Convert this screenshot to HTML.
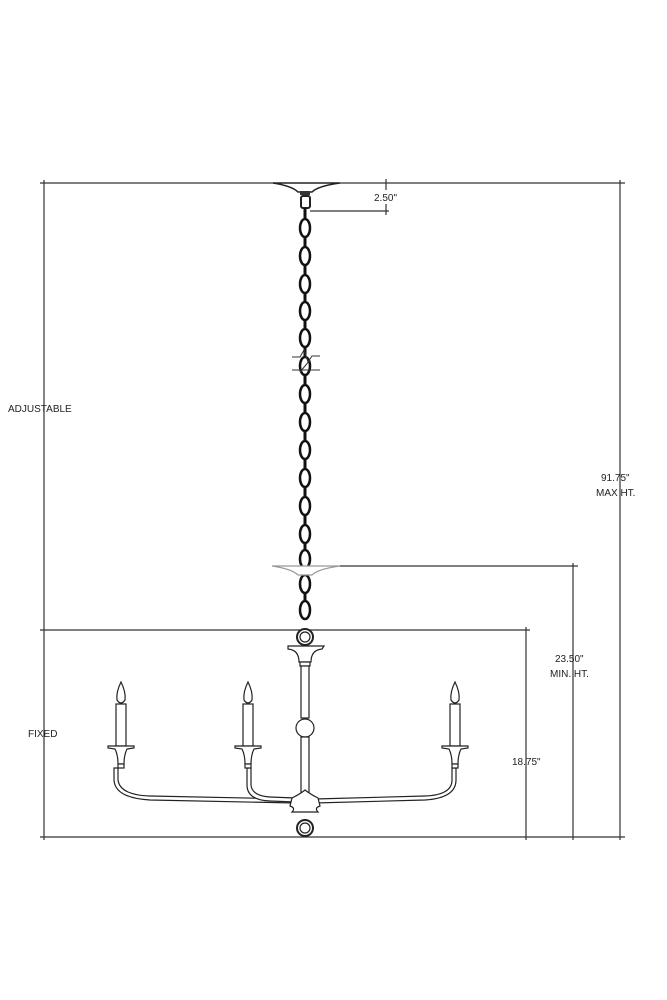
<!DOCTYPE html>
<html><head><meta charset="utf-8"><style>
html,body{margin:0;padding:0;background:#fff;}
svg{display:block;}
text{font-family:"Liberation Sans",sans-serif;font-size:10px;fill:#222;}
</style></head><body>
<svg width="667" height="1000" viewBox="0 0 667 1000" xmlns="http://www.w3.org/2000/svg">
<g stroke="#333" stroke-width="1.2" fill="none">
<line x1="40" y1="183" x2="275" y2="183"/>
<line x1="340" y1="183" x2="625" y2="183"/>
<line x1="44" y1="180" x2="44" y2="840"/>
<line x1="620" y1="180" x2="620" y2="840"/>
<line x1="40" y1="837" x2="625" y2="837"/>
<line x1="40" y1="630" x2="530" y2="630"/>
<line x1="526" y1="627" x2="526" y2="840"/>
<line x1="340" y1="566" x2="578" y2="566"/>
<line x1="573" y1="563" x2="573" y2="840"/>
<line x1="310" y1="211" x2="389" y2="211"/>
<line x1="386" y1="179" x2="386" y2="190"/>
<line x1="386" y1="204" x2="386" y2="215"/>
</g>
<!-- canopy top -->
<path d="M273 183 L340 183 Q318 186 312 192 L298 192 Q292 186 273 183Z" fill="#fff" stroke="#222" stroke-width="1.5"/>
<rect x="300" y="191" width="10" height="4" fill="#333"/>
<rect x="301" y="196" width="9" height="12" rx="2" fill="none" stroke="#222" stroke-width="2"/>
<!-- chain -->
<g stroke="#111" stroke-width="3" fill="none">
<line x1="305" y1="208" x2="305" y2="620"/>
</g>
<g stroke="#111" stroke-width="2.5" fill="#fff">
<ellipse cx="305" cy="228" rx="5" ry="9"/>
<ellipse cx="305" cy="256" rx="5" ry="9"/>
<ellipse cx="305" cy="284" rx="5" ry="9"/>
<ellipse cx="305" cy="311" rx="5" ry="9"/>
<ellipse cx="305" cy="338" rx="5" ry="9"/>
<ellipse cx="305" cy="366" rx="5" ry="9"/>
<ellipse cx="305" cy="394" rx="5" ry="9"/>
<ellipse cx="305" cy="422" rx="5" ry="9"/>
<ellipse cx="305" cy="450" rx="5" ry="9"/>
<ellipse cx="305" cy="478" rx="5" ry="9"/>
<ellipse cx="305" cy="506" rx="5" ry="9"/>
<ellipse cx="305" cy="534" rx="5" ry="9"/>
<ellipse cx="305" cy="559" rx="5" ry="9"/>
<ellipse cx="305" cy="584" rx="5" ry="9"/>
<ellipse cx="305" cy="610" rx="5" ry="9"/>
</g>
<g stroke="#333" stroke-width="1" fill="none">
<path d="M292 357 L300 357 L304 350 L308 362 L312 356 L320 356"/>
<path d="M292 370 L320 370"/>
<line x1="300" y1="372" x2="310" y2="360"/>
</g>
<!-- lower canopy (grey) -->
<path d="M272 566 L340 566 Q318 569 312 575 L298 575 Q292 569 272 566Z" fill="#fff" stroke="#999" stroke-width="1.2"/>
<!-- chandelier body -->
<g stroke="#222" stroke-width="1.2" fill="#fff">
<circle cx="305" cy="637" r="8" stroke-width="2"/>
<circle cx="305" cy="637" r="5"/>
<path d="M288 646 L324 646 L322 649 Q311 650 311 662 L299 662 Q299 650 288 649Z"/>
<rect x="300" y="662" width="10" height="4"/>
<rect x="301" y="666" width="8" height="52"/>
<circle cx="305" cy="728" r="9"/>
<rect x="301" y="737" width="8" height="58"/>
<!-- arms -->
<path d="M118 768 L118 780 Q120 795 150 796 L295 799 L295 803 L150 800 Q115 798 114 780 L114 768Z"/>
<path d="M251 768 L251 785 Q252 796 270 797 L295 798 L295 802 L270 801 Q247 800 247 785 L247 768Z"/>
<path d="M456 768 L456 780 Q456 798 425 800 L315 803 L315 799 L425 796 Q452 795 452 780 L452 768Z"/>
<path d="M292 798 Q300 794 305 790 Q310 794 318 798 L320 806 Q314 808 318 812 L292 812 Q296 808 290 806Z"/>
<circle cx="305" cy="828" r="8" stroke-width="2"/>
<circle cx="305" cy="828" r="5"/>
</g>
<!-- candles -->
<g stroke="#222" stroke-width="1.2" fill="#fff">
<g transform="translate(121,0)">
<path d="M0 682 Q-5 692 -4 700 Q0 706 4 700 Q5 692 0 682Z"/>
<rect x="-5" y="704" width="10" height="42"/>
<path d="M-13 746 L13 746 L13 748 L6 749 Q3 755 3 764 L-3 764 Q-3 755 -6 749 L-13 748Z"/>
<rect x="-3" y="764" width="6" height="4"/>
</g>
<g transform="translate(248,0)">
<path d="M0 682 Q-5 692 -4 700 Q0 706 4 700 Q5 692 0 682Z"/>
<rect x="-5" y="704" width="10" height="42"/>
<path d="M-13 746 L13 746 L13 748 L6 749 Q3 755 3 764 L-3 764 Q-3 755 -6 749 L-13 748Z"/>
<rect x="-3" y="764" width="6" height="4"/>
</g>
<g transform="translate(455,0)">
<path d="M0 682 Q-5 692 -4 700 Q0 706 4 700 Q5 692 0 682Z"/>
<rect x="-5" y="704" width="10" height="42"/>
<path d="M-13 746 L13 746 L13 748 L6 749 Q3 755 3 764 L-3 764 Q-3 755 -6 749 L-13 748Z"/>
<rect x="-3" y="764" width="6" height="4"/>
</g>
</g>
<text x="374" y="201">2.50"</text>
<text x="8" y="412">ADJUSTABLE</text>
<text x="601" y="481">91.75"</text>
<text x="596" y="496">MAX HT.</text>
<text x="555" y="662">23.50"</text>
<text x="550" y="677">MIN. HT.</text>
<text x="28" y="737">FIXED</text>
<text x="512" y="765">18.75"</text>
</svg>
</body></html>
